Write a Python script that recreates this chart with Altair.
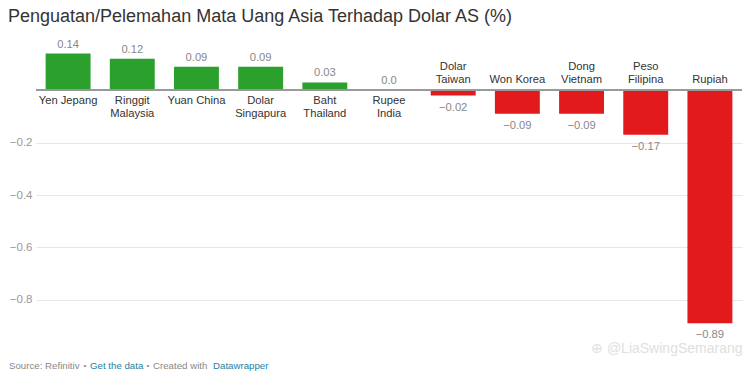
import altair as alt
import pandas as pd

categories = ["Yen Jepang", "Ringgit Malaysia", "Yuan China", "Dolar Singapura",
              "Baht Thailand", "Rupee India", "Dolar Taiwan", "Won Korea",
              "Dong Vietnam", "Peso Filipina", "Rupiah"]
cat_labels = ["Yen Jepang", "Ringgit\nMalaysia", "Yuan China", "Dolar\nSingapura",
              "Baht\nThailand", "Rupee\nIndia", "Dolar\nTaiwan", "Won Korea",
              "Dong\nVietnam", "Peso\nFilipina", "Rupiah"]
values = [0.14, 0.12, 0.09, 0.09, 0.03, 0.0, -0.02, -0.09, -0.09, -0.17, -0.89]
value_labels = ["0.14", "0.12", "0.09", "0.09", "0.03", "0.0", "\u22120.02",
                "\u22120.09", "\u22120.09", "\u22120.17", "\u22120.89"]
y_ticks = [-0.8, -0.6, -0.4, -0.2]

df = pd.DataFrame({"cat": categories, "lab": cat_labels, "value": values, "vlab": value_labels})
df["nlines"] = df["lab"].str.count("\n") + 1

FONT = "Liberation Sans"
W, H = 706, 288
yscale = alt.Scale(domain=[-0.95, 0.15], nice=False, zero=False)

x = alt.X("cat:N", sort=categories, axis=None,
          scale=alt.Scale(paddingInner=0.3, paddingOuter=0.15))
y = alt.Y("value:Q", scale=yscale,
          axis=alt.Axis(values=y_ticks, title=None, domain=False, ticks=False,
                        labelPadding=4, labelColor="#999999", labelFontSize=11.5,
                        labelFont=FONT, gridColor="#e6e6e6", format=".1f"))

base = alt.Chart(df)

bars = base.mark_bar().encode(
    x=x, y=y, y2=alt.datum(0),
    color=alt.condition("datum.value >= 0", alt.value("#2ca02c"), alt.value("#e31a1c")),
)

zero = base.mark_rule(color="#999999", strokeWidth=1.2).encode(
    x=alt.value(0), x2=alt.value(W), y=alt.datum(0)
)

pos = "datum.value >= 0"
neg1 = "datum.value < 0 && datum.nlines == 1"
neg2 = "datum.value < 0 && datum.nlines == 2"

txt = dict(fontSize=11.2, font=FONT)

vpos = base.transform_filter(pos).mark_text(baseline="bottom", dy=-4, color="#888888", **txt).encode(
    x=x, y=y, text="vlab:N")
vneg = base.transform_filter("datum.value < 0").mark_text(baseline="top", dy=6, color="#888888", **txt).encode(
    x=x, y=y, text="vlab:N")

cpos = base.transform_filter(pos).mark_text(baseline="top", dy=5, lineBreak="\n", lineHeight=13,
                                             color="#333333", **txt).encode(
    x=x, y=alt.datum(0), text="lab:N")
cneg1 = base.transform_filter(neg1).mark_text(baseline="bottom", dy=-5, lineBreak="\n", lineHeight=13,
                                              color="#333333", **txt).encode(
    x=x, y=alt.datum(0), text="lab:N")
cneg2 = base.transform_filter(neg2).mark_text(baseline="bottom", dy=-18, lineBreak="\n", lineHeight=13,
                                              color="#333333", **txt).encode(
    x=x, y=alt.datum(0), text="lab:N")

one = pd.DataFrame({"t": [0]})
def label(t, xpos, ypos, color, size, align="left"):
    return alt.Chart(one).mark_text(align=align, baseline="middle", fontSize=size,
                                    font=FONT, color=color).encode(
        x=alt.value(xpos), y=alt.value(ypos), text=alt.value(t))

title = label("Penguatan/Pelemahan Mata Uang Asia Terhadap Dolar AS (%)", -28, -34, "#333333", 18)

FY = 315
FS = 9.7
footer = (label("Source: Refinitiv", -27, FY, "#888888", FS)
          + label("\u2022", 49, FY, "#888888", 8, align="center")
          + label("Get the data", 54, FY, "#1d81a2", FS)
          + label("\u2022", 112, FY, "#888888", 8, align="center")
          + label("Created with", 117, FY, "#888888", FS)
          + label("Datawrapper", 177, FY, "#1d81a2", FS))

watermark = label("\u2295 @LiaSwingSemarang", 555, 298, "#e0e0e0", 14)

chart = alt.layer(bars, zero, vpos, vneg, cpos, cneg1, cneg2, title, footer, watermark).properties(
    width=W, height=H,
    background="white",
    autosize=alt.AutoSizeParams(type="none"),
    padding={"left": 36, "top": 51, "right": 12, "bottom": 37},
).configure_view(strokeWidth=0, stroke="transparent")

chart.save("out.html", embed_options={"renderer": "svg", "actions": False})
